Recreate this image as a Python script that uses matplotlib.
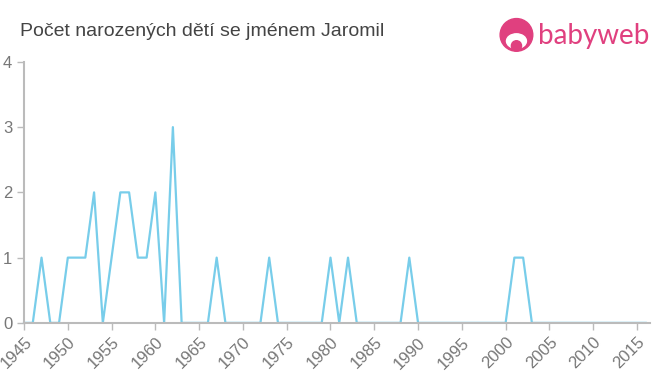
import matplotlib
matplotlib.use('Agg')
from matplotlib import pyplot as plt
from matplotlib.patches import Circle, Ellipse

plt.rcParams['font.family'] = ['Liberation Sans', 'DejaVu Sans']

# Data
years = list(range(1945, 2017))
counts = [0, 0, 1, 0, 0, 1, 1, 1, 2, 0,   # 1945-1954
          1, 2, 2, 1, 1, 2, 0, 3, 0, 0,   # 1955-1964
          0, 0, 1, 0, 0, 0, 0, 0, 1, 0,   # 1965-1974
          0, 0, 0, 0, 0, 1, 0, 1, 0, 0,   # 1975-1984
          0, 0, 0, 0, 1, 0, 0, 0, 0, 0,   # 1985-1994
          0, 0, 0, 0, 0, 0, 1, 1, 0, 0,   # 1995-2004
          0, 0, 0, 0, 0, 0, 0, 0, 0, 0,   # 2005-2014
          0, 0]                           # 2015-2016
xticks = list(range(1945, 2020, 5))
yticks = [0, 1, 2, 3, 4]

title = 'Počet narozených dětí se jménem Jaromil'
lineColor = '#78cdea'
axisColor = '#bbbbbb'
textColor = '#777777'
pink = '#e0407f'

fig = plt.figure(figsize=(6.6, 3.75), dpi=100)
ax = fig.add_axes([0.0364, 0.139, 0.9486, 0.696])

ax.plot(years, counts, color=lineColor, linewidth=1.6, clip_on=False)

ax.set_xlim(1945, 2016.5)
ax.set_ylim(0, 4)
ax.set_xticks(xticks)
ax.set_xticklabels([str(y) for y in xticks], rotation=45, ha='right',
                   rotation_mode='anchor', fontsize=12, color=textColor)
ax.set_yticks(yticks)
ax.set_yticklabels([str(y) for y in yticks], fontsize=12, color=textColor)
ax.tick_params(axis='both', colors=axisColor, length=5, width=1)
for lbl in ax.get_xticklabels() + ax.get_yticklabels():
    lbl.set_color(textColor)

for side in ['top', 'right']:
    ax.spines[side].set_visible(False)
for side in ['left', 'bottom']:
    ax.spines[side].set_color(axisColor)
    ax.spines[side].set_linewidth(1.5)

fig.text(0.03, 0.915, title, fontsize=14, color='#444444', va='center')

# babyweb logo
fig.text(0.815, 0.905, 'babyweb', fontsize=20, color=pink, va='center', ha='left',
         family=['Lato', 'DejaVu Sans'])
logo = fig.add_axes([0.755, 0.85, 0.055, 0.11])
logo.set_xlim(0, 1)
logo.set_ylim(0, 1)
logo.set_aspect('equal')
logo.axis('off')
logo.add_patch(Circle((0.5, 0.52), 0.45, color=pink))
logo.add_patch(Ellipse((0.5, 0.35), 0.55, 0.4, color='white'))
logo.add_patch(Circle((0.5, 0.22), 0.14, color=pink))

plt.savefig('out.png', dpi=100)
